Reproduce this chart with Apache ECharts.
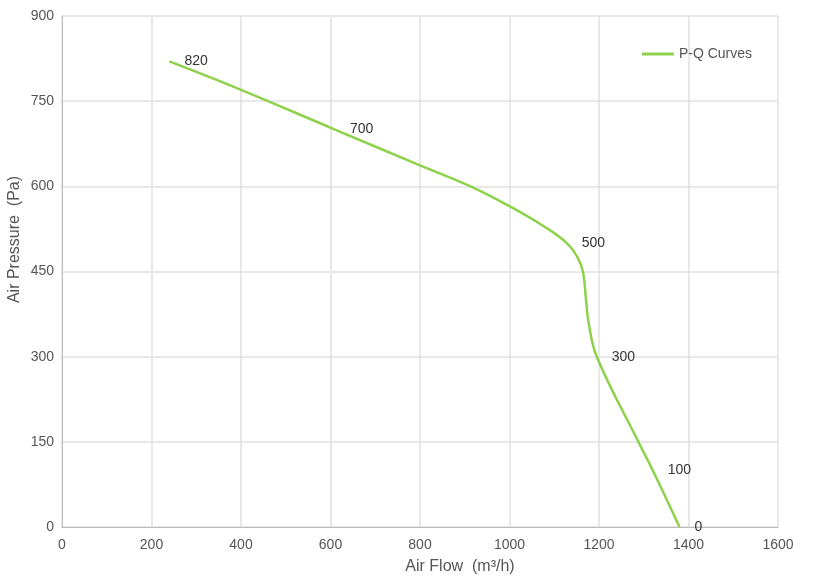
<!DOCTYPE html>
<html>
<head>
<meta charset="utf-8">
<script src="https://cdn.jsdelivr.net/npm/echarts@6/dist/echarts.min.js"></script>
<style>
  html, body { margin: 0; padding: 0; background: #fff; }
  #chart { width: 814px; height: 584px; }
</style>
</head>
<body>
<div id="chart"></div>
<script>
// air flow (m3/h) and pressure (Pa)
const airFlow = [240, 400, 610, 800, 913, 1000, 1080, 1128, 1152, 1164, 1171, 1177, 1195, 1288, 1320, 1380];
const airPressure = [820, 770, 700, 637, 600, 565, 528, 500, 475, 450, 400, 359, 300, 150, 100, 0];
// points that carry a value label
const labeledPressures = [820, 700, 500, 300, 100, 0];

const seriesName = 'P-Q Curves';
const lineColor = '#8ed14b';
const font = 'Liberation Sans, Arial, sans-serif';

const points = airFlow.map((x, i) => {
  const y = airPressure[i];
  const p = { value: [x, y] };
  if (labeledPressures.includes(y)) {
    p.label = { show: true };
  }
  return p;
});

const chart = echarts.init(document.getElementById('chart'));
chart.setOption({
  animation: false,
  textStyle: { fontFamily: font },
  grid: { left: 62, right: 36, top: 16, bottom: 57, containLabel: false, outerBoundsMode: 'none' },
  legend: {
    right: 57,
    top: 42,
    itemWidth: 32,
    itemHeight: 3,
    textStyle: { color: '#555', fontSize: 14, fontFamily: font },
    data: [{ name: seriesName, icon: 'rect' }]
  },
  xAxis: {
    type: 'value',
    min: 0,
    max: 1600,
    interval: 200,
    name: 'Air Flow  (m³/h)',
    nameLocation: 'middle',
    nameGap: 32,
    nameTextStyle: { color: '#555', fontSize: 16, padding: [0, 0, 0, 80] },
    axisLine: { show: true, lineStyle: { color: '#bbb' } },
    axisTick: { show: false },
    axisLabel: { color: '#555', fontSize: 14, margin: 11, formatter: (v) => String(v) },
    splitLine: { show: true, lineStyle: { color: '#e0e0e0', width: 1.5 } }
  },
  yAxis: {
    type: 'value',
    min: 0,
    max: 900,
    interval: 150,
    name: 'Air Pressure  (Pa)',
    nameLocation: 'middle',
    nameGap: 39,
    nameMoveOverlap: false,
    nameTextStyle: { color: '#555', fontSize: 16, padding: [0, 0, 0, 64] },
    axisLine: { show: true, lineStyle: { color: '#bbb' } },
    axisTick: { show: false },
    axisLabel: { color: '#555', fontSize: 14, margin: 8 },
    splitLine: { show: true, lineStyle: { color: '#e0e0e0', width: 1.5 } }
  },
  series: [{
    name: seriesName,
    type: 'line',
    data: points,
    smooth: 0.4,
    symbol: 'circle',
    symbolSize: 0,
    showSymbol: true,
    showAllSymbol: true,
    color: lineColor,
    itemStyle: { color: lineColor },
    lineStyle: { color: lineColor, width: 2.5 },
    label: {
      show: false,
      position: 'right',
      distance: 15,
      color: '#333',
      fontSize: 14,
      formatter: (p) => p.value[1]
    }
  }]
});
</script>
</body>
</html>
